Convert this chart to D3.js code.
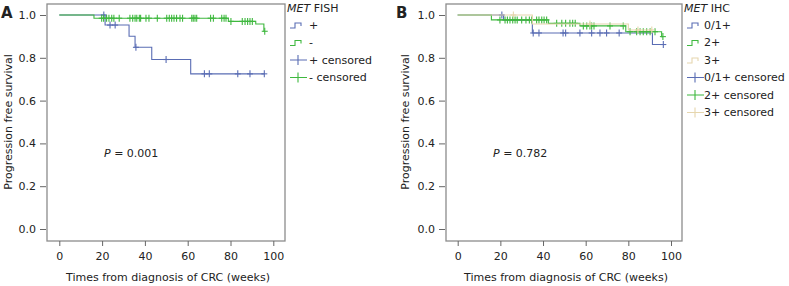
<!DOCTYPE html>
<html>
<head>
<meta charset="utf-8">
<script src="https://cdn.jsdelivr.net/npm/d3@7"></script>
<style>
  body { margin: 0; background: #fff; }
  svg text { font-family: "DejaVu Sans", Verdana, sans-serif; fill: #222; }
</style>
</head>
<body>
<svg id="chart" width="789" height="286"></svg>
<script>
const xTicks = [0, 20, 40, 60, 80, 100];
const yTicks = [0.0, 0.2, 0.4, 0.6, 0.8, 1.0];

// Panel A: MET FISH. Steps are [week, survival] after each event.
const fishPosSteps = [[0, 1], [21.4, 0.953], [32.6, 0.901], [35.4, 0.849], [43.2, 0.792], [61.4, 0.725]];
const fishPosEnd = 96;
const fishPosCensored = [20.8, 23.7, 26.1, 35.8, 49.9, 67.8, 70.1, 83.4, 89.1, 95.8];

const fishNegSteps = [[0, 1], [16.2, 0.985], [79, 0.970], [91.8, 0.958], [95.6, 0.924]];
const fishNegEnd = 96;
const fishNegCensored = [19.8, 20.7, 22.1, 23.2, 24.5, 25.5, 28.0, 33.0, 34.3, 35.4, 36.2, 37.4,
  38.0, 40.5, 41.9, 45.8, 50.2, 51.4, 52.5, 53.6, 54.8, 56.4, 57.6, 61.9, 62.6, 63.4, 64.2,
  70.7, 72.0, 75.9, 77.0, 77.9, 80.2, 85.5, 86.8, 88.0, 89.1, 90.2, 96];

// Panel B: MET IHC
const ihcLowSteps = [[0, 1], [21.5, 0.976], [35, 0.916], [91.3, 0.862]];
const ihcLowEnd = 96.4;
const ihcLowCensored = [20.7, 35.4, 38.1, 49.4, 50.6, 57.3, 62.8, 66.7, 69.8, 75.7, 96.4];

const ihcMidSteps = [[0, 1], [15.8, 0.977], [42.5, 0.961], [57.3, 0.949], [78.8, 0.922], [95.6, 0.899]];
const ihcMidEnd = 96.2;
const ihcMidCensored = [19.8, 22.2, 23.3, 24.5, 25.8, 26.9, 27.9, 30.0, 32.0, 33.6, 34.7, 37.0,
  38.1, 39.4, 40.5, 41.7, 46.4, 48.8, 50.6, 52.6, 53.9, 55.1, 58.9, 60.5, 62.0, 62.8, 63.9,
  71.4, 77.6, 80.8, 83.9, 85.5, 87.0, 88.6, 90.2, 92.5, 96.2];

const ihcHighSteps = [[0, 1], [35, 0.958], [80, 0.930]];
const ihcHighEnd = 91;
const ihcHighCensored = [26.1, 62.0, 84.5, 91];

const COLORS = { blue: "#5a6db4", green: "#3fb83f", tan: "#e6d6ae" };

const svg = d3.select("#chart");

// value of a step curve at time t
function survivalAt(steps, t) {
  let s = steps[0][1];
  for (const [time, value] of steps) {
    if (time <= t) s = value;
  }
  return s;
}

function drawPanel(cfg) {
  const g = svg.append("g");
  const x = d3.scaleLinear().domain([0, 100]).range(cfg.xRange);
  const y = d3.scaleLinear().domain([0, 1]).range([229, 15]);

  // frame
  g.append("rect")
    .attr("x", cfg.frame[0])
    .attr("y", 4)
    .attr("width", cfg.frame[1] - cfg.frame[0])
    .attr("height", 241 - 4)
    .attr("fill", "none")
    .attr("stroke", "#8c8c8c")
    .attr("stroke-width", 1.3);

  // x axis
  const xAxis = g.append("g")
    .attr("transform", "translate(0,241)")
    .call(d3.axisBottom(x).tickValues(xTicks).tickSize(5).tickPadding(6).tickFormat(d3.format("d")));
  xAxis.select(".domain").remove();
  xAxis.selectAll("line").attr("stroke", "#666");
  xAxis.selectAll("text").style("font-size", "11px").attr("fill", "#222");

  // y axis
  const yAxis = g.append("g")
    .attr("transform", `translate(${cfg.frame[0] - 1},0)`)
    .call(d3.axisLeft(y).tickValues(yTicks).tickSize(6).tickPadding(4).tickFormat(d3.format(".1f")));
  yAxis.select(".domain").remove();
  yAxis.selectAll("line").attr("stroke", "#666");
  yAxis.selectAll("text").style("font-size", "11px").attr("fill", "#222");

  g.append("text")
    .attr("transform", `translate(${cfg.yTitleX},122) rotate(-90)`)
    .attr("text-anchor", "middle")
    .attr("dy", "0.35em")
    .style("font-size", "11px")
    .text("Progression free survival");

  g.append("text")
    .attr("x", (cfg.frame[0] + cfg.frame[1]) / 2 + 2)
    .attr("y", 281)
    .attr("text-anchor", "middle")
    .style("font-size", "11px")
    .text("Times from diagnosis of CRC (weeks)");

  g.append("text")
    .attr("x", cfg.labelX)
    .attr("y", 18)
    .style("font-size", "15px")
    .style("font-weight", "bold")
    .text(cfg.label);

  const pText = g.append("text")
    .attr("x", cfg.pX)
    .attr("y", 157)
    .style("font-size", "11px");
  pText.append("tspan").style("font-style", "italic").text("P");
  pText.append("tspan").text(" = " + cfg.p);

  const line = d3.line()
    .x((d) => x(d[0]))
    .y((d) => y(d[1]))
    .curve(d3.curveStepAfter);

  cfg.series.forEach((s) => {
    const pts = s.steps.concat([[s.end, s.steps[s.steps.length - 1][1]]]);
    g.append("path")
      .attr("d", line(pts))
      .attr("fill", "none")
      .attr("stroke", s.color)
      .attr("stroke-width", 1.1);

    const marks = g.append("g").attr("stroke", s.color).attr("stroke-width", 1.1);
    s.censored.forEach((t) => {
      const cx = x(t);
      const cy = y(survivalAt(s.steps, t));
      marks.append("line").attr("x1", cx).attr("x2", cx).attr("y1", cy - 3.5).attr("y2", cy + 3.5);
      marks.append("line").attr("x1", cx - 3).attr("x2", cx + 3).attr("y1", cy).attr("y2", cy);
    });
  });

  // legend
  const lg = g.append("g").attr("transform", `translate(${cfg.legendX},0)`);
  const head = lg.append("text").attr("x", 0).attr("y", 12).style("font-size", "11px");
  head.append("tspan").style("font-style", "italic").text("MET");
  head.append("tspan").text(" " + cfg.legendTitle);

  const items = cfg.series.map((s) => ({ kind: "step", name: s.name, color: s.color }))
    .concat(cfg.series.map((s) => ({ kind: "cens", name: s.name + " censored", color: s.color })));

  items.forEach((it, i) => {
    const cy = 25 + i * 17.5;
    if (it.kind === "step") {
      lg.append("path")
        .attr("d", `M3,${cy + 3}H8V${cy - 2}H14V${cy + 1}`)
        .attr("fill", "none")
        .attr("stroke", it.color)
        .attr("stroke-width", 1.1);
    } else {
      lg.append("path")
        .attr("d", `M3,${cy}H20M11,${cy - 5}V${cy + 5}`)
        .attr("fill", "none")
        .attr("stroke", it.color)
        .attr("stroke-width", 1.1);
    }
    lg.append("text")
      .attr("x", cfg.legendTextX)
      .attr("y", cy)
      .attr("dy", "0.35em")
      .style("font-size", "11px")
      .text(it.name);
  });
}

drawPanel({
  label: "A",
  labelX: 1,
  xRange: [59.3, 273.3],
  frame: [47, 285],
  yTitleX: 8,
  pX: 104,
  p: "0.001",
  legendX: 287,
  legendTextX: 22,
  legendTitle: "FISH",
  series: [
    { name: "+", color: COLORS.blue, steps: fishPosSteps, end: fishPosEnd, censored: fishPosCensored },
    { name: "-", color: COLORS.green, steps: fishNegSteps, end: fishNegEnd, censored: fishNegCensored },
  ],
});

drawPanel({
  label: "B",
  labelX: 396,
  xRange: [457.7, 671],
  frame: [446, 682],
  yTitleX: 405,
  pX: 493,
  p: "0.782",
  legendX: 684,
  legendTextX: 20,
  legendTitle: "IHC",
  series: [
    { name: "0/1+", color: COLORS.blue, steps: ihcLowSteps, end: ihcLowEnd, censored: ihcLowCensored },
    { name: "2+", color: COLORS.green, steps: ihcMidSteps, end: ihcMidEnd, censored: ihcMidCensored },
    { name: "3+", color: COLORS.tan, steps: ihcHighSteps, end: ihcHighEnd, censored: ihcHighCensored },
  ],
});
</script>
</body>
</html>
